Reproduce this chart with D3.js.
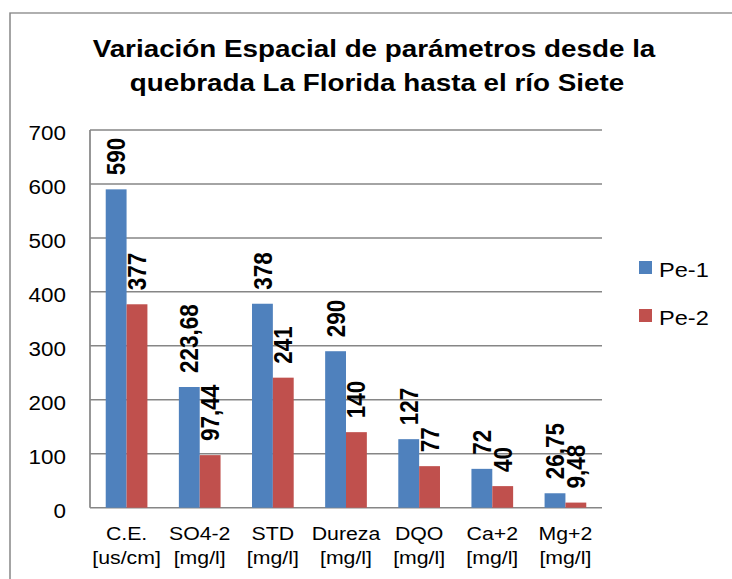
<!DOCTYPE html>
<html>
<head>
<meta charset="utf-8">
<script src="https://cdn.jsdelivr.net/npm/d3@7"></script>
<style>
  body { margin: 0; background: #fff; }
  text { font-family: "Liberation Sans", Arial, sans-serif; fill: #000; }
</style>
</head>
<body>
<div id="chart"></div>
<script>
// Chart data
const categories = ["C.E.", "SO4-2", "STD", "Dureza", "DQO", "Ca+2", "Mg+2"];
const units = ["[us/cm]", "[mg/l]", "[mg/l]", "[mg/l]", "[mg/l]", "[mg/l]", "[mg/l]"];
const seriesNames = ["Pe-1", "Pe-2"];
const pe1 = [590, 223.68, 378, 290, 127, 72, 26.75];
const pe2 = [377, 97.44, 241, 140, 77, 40, 9.48];
const yTicks = [0, 100, 200, 300, 400, 500, 600, 700];
const colors = ["#4F81BD", "#C0504D"];

// The reference is slightly stretched horizontally, draw in narrower units
const SX = 1.15;
const outerW = 732, outerH = 579;
const W = outerW / SX;

const plot = { left: 90 / SX, right: 602 / SX, top: 130, bottom: 507.7 };

const svg = d3.select("#chart")
    .append("svg")
    .attr("width", outerW)
    .attr("height", outerH)
    .attr("viewBox", `0 0 ${W} ${outerH}`)
    .attr("preserveAspectRatio", "none");

// outer frame
svg.append("rect")
    .attr("x", 10 / SX).attr("y", 13)
    .attr("width", W + 10).attr("height", outerH)
    .attr("fill", "none").attr("stroke", "#868686").attr("stroke-width", 1.3);

// Title
const title = svg.append("text")
    .attr("text-anchor", "middle")
    .attr("font-weight", "bold")
    .attr("font-size", 24.2);
title.append("tspan").attr("x", 374 / SX).attr("y", 57).text("Variación Espacial de parámetros desde la");
title.append("tspan").attr("x", 377 / SX).attr("y", 91).text("quebrada La Florida hasta el río Siete");

// Scales
const x0 = d3.scaleBand()
    .domain(categories)
    .range([plot.left, plot.right])
    .paddingInner(0.43)
    .paddingOuter(0.215);

const x1 = d3.scaleBand()
    .domain(seriesNames)
    .range([0, x0.bandwidth()]);

const y = d3.scaleLinear()
    .domain([0, 700])
    .range([plot.bottom, plot.top]);

// Gridlines
svg.selectAll(".grid")
    .data(yTicks)
    .join("line")
    .attr("class", "grid")
    .attr("x1", plot.left).attr("x2", plot.right)
    .attr("y1", d => y(d)).attr("y2", d => y(d))
    .attr("stroke", "#868686").attr("stroke-width", 1.5);

// left axis line
svg.append("line")
    .attr("x1", plot.left).attr("x2", plot.left)
    .attr("y1", y(700)).attr("y2", y(0))
    .attr("stroke", "#868686").attr("stroke-width", 1.5);

// Y tick labels
svg.selectAll(".ytick")
    .data(yTicks)
    .join("text")
    .attr("class", "ytick")
    .attr("x", 66 / SX)
    .attr("y", d => y(d) + 10.5)
    .attr("text-anchor", "end")
    .attr("font-size", 19.5)
    .text(d => d);

// Bars
const rows = categories.map((c, i) => ({ cat: c, vals: [pe1[i], pe2[i]] }));

const groups = svg.selectAll(".group")
    .data(rows)
    .join("g")
    .attr("class", "group")
    .attr("transform", d => `translate(${x0(d.cat)},0)`);

groups.selectAll("rect")
    .data(d => d.vals.map((v, k) => ({ s: seriesNames[k], v: v, k: k })))
    .join("rect")
    .attr("x", d => x1(d.s))
    .attr("y", d => y(d.v))
    .attr("width", x1.bandwidth())
    .attr("height", d => y(0) - y(d.v))
    .attr("fill", d => colors[d.k]);

// Data labels, rotated
const fmt = v => String(v).replace(".", ",");
groups.selectAll(".dlabel")
    .data(d => d.vals.map((v, k) => ({ s: seriesNames[k], v: v, k: k })))
    .join("text")
    .attr("class", "dlabel")
    .attr("transform", d => `translate(${x1(d.s) + x1.bandwidth() / 2},${y(d.v) - 14}) rotate(-90)`)
    .attr("dy", "0.35em")
    .attr("font-size", 22.5)
    .attr("font-weight", "bold")
    .text(d => fmt(d.v));

// X labels
const xl = svg.selectAll(".xlabel")
    .data(categories)
    .join("text")
    .attr("class", "xlabel")
    .attr("text-anchor", "middle")
    .attr("font-size", 18.5);
xl.append("tspan")
    .attr("x", d => x0(d) + x0.bandwidth() / 2)
    .attr("y", 540)
    .text(d => d);
xl.append("tspan")
    .attr("x", d => x0(d) + x0.bandwidth() / 2)
    .attr("y", 564)
    .text((d, i) => units[i]);

// Legend
const legend = svg.selectAll(".legend")
    .data(seriesNames)
    .join("g")
    .attr("class", "legend")
    .attr("transform", (d, i) => `translate(${639 / SX},${261 + i * 48})`);

legend.append("rect")
    .attr("width", 13 / SX).attr("height", 13)
    .attr("fill", (d, i) => colors[i]);

legend.append("text")
    .attr("x", 20 / SX)
    .attr("y", 15.7)
    .attr("font-size", 20.5)
    .text(d => d);
</script>
</body>
</html>
